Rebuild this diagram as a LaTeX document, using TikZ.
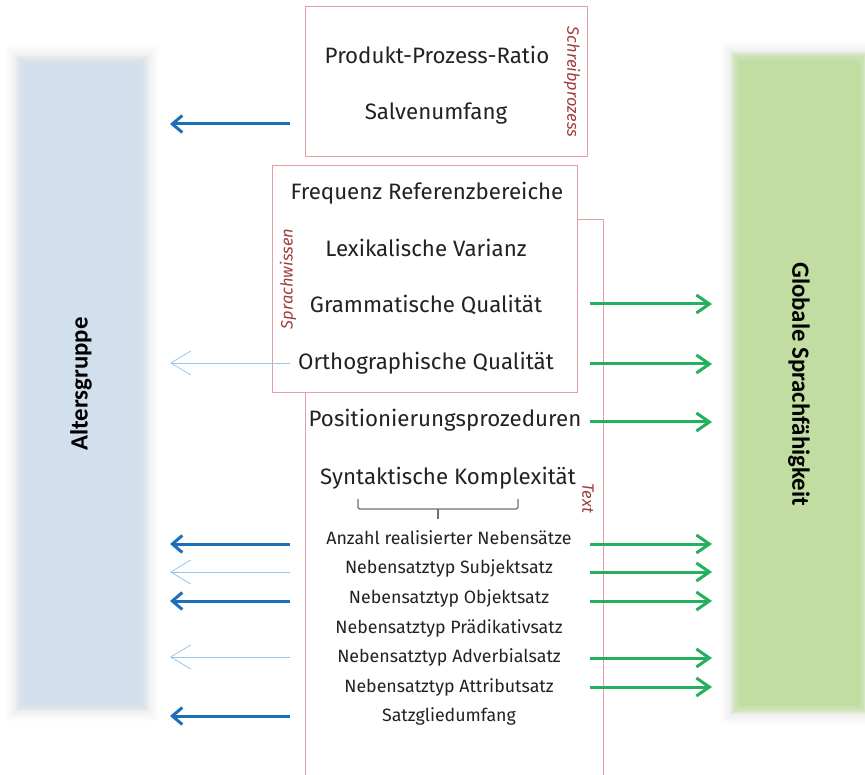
\documentclass[tikz,border=0pt]{standalone}
\usepackage{fontspec}
\setmainfont{Fira Sans}
\newfontfamily\barfont{Carlito}
\usetikzlibrary{arrows.meta,positioning,calc}
\definecolor{BoxLine}{RGB}{226,160,164}
\definecolor{BoxLabel}{RGB}{158,62,62}
\definecolor{AgeBlue}{RGB}{210,223,236}
\definecolor{SkillGreen}{RGB}{193,221,162}
\definecolor{DarkArrow}{RGB}{30,110,185}
\definecolor{LightArrow}{RGB}{157,195,230}
\definecolor{GreenArrow}{RGB}{36,176,94}
\definecolor{Ink}{RGB}{34,34,34}
\definecolor{BraceGrey}{RGB}{112,112,112}

\tikzset{
  item/.style={anchor=base, text=Ink, font=\fontsize{22.3}{25}\selectfont},
  subitem/.style={anchor=base, text=Ink, font=\fontsize{17.8}{20}\selectfont},
  grouplabel/.style={text=BoxLabel, font=\itshape\fontsize{16.5}{18}\selectfont},
  groupbox/.style={draw=BoxLine, line width=1pt},
  barlabel/.style={font=\barfont\bfseries\fontsize{24.8}{28}\selectfont},
  strongedge/.style={DarkArrow, line width=3pt,
    -{Straight Barb[length=10pt,width=17pt]}},
  weakedge/.style={LightArrow, line width=0.8pt,
    -{Straight Barb[length=20pt,width=24pt]}},
  skilledge/.style={GreenArrow, line width=3pt,
    -{Straight Barb[length=13pt,width=18pt]}},
}

\begin{document}
\begin{tikzpicture}[x=1pt,y=-1pt]
  \useasboundingbox (0,0) rectangle (865,775);

  % soft bars at both sides
  \foreach \col/\xa/\ya/\xb/\yb in {AgeBlue/22/62/142/705, SkillGreen/737/58/862/708}
  {
    \foreach \d in {16,14,12,10,8}
      \fill[black, opacity=0.012] (\xa-\d,\ya-\d) rectangle (\xb+\d,\yb+\d);
    \foreach \d in {6,4,2,0}
      \fill[\col, opacity=0.35] (\xa-\d,\ya-\d) rectangle (\xb+\d,\yb+\d);
    \fill[\col] (\xa+2,\ya+2) rectangle (\xb-2,\yb-2);
  }
  \node[barlabel, rotate=90] (age) at (81,384) {Altersgruppe};
  \node[barlabel, rotate=-90] (skill) at (799,384) {Globale Sprachfähigkeit};

  % group frames
  \draw[groupbox] (305,775) |- (603,220) -- (603,775);
  \draw[groupbox, fill=white] (272,166) rectangle (577,393);
  \draw[groupbox, fill=white] (305,7) rectangle (587,157);
  \node[grouplabel, rotate=-90] (schreib) at (572,82) {Schreibprozess};
  \node[grouplabel, rotate=90] (sprach) at (288,279) {Sprachwissen};
  \node[grouplabel, rotate=-90] (textlbl) at (588,498) {Text};

  % measures
  \foreach \name/\txt/\x/\y in {
    ppr/Produkt-Prozess-Ratio/437/64,
    salve/Salvenumfang/436/120,
    freq/Frequenz Referenzbereiche/427/200,
    lex/Lexikalische Varianz/426/257,
    gram/Grammatische Qualität/426/313,
    ortho/Orthographische Qualität/426/370,
    pos/Positionierungsprozeduren/445/427,
    syn/Syntaktische Komplexität/448/484}
    \node[item] (\name) at (\x,\y) {\txt};

  \foreach \name/\txt/\y in {
    nsanz/Anzahl realisierter Nebensätze/544,
    subj/Nebensatztyp Subjektsatz/573.5,
    obj/Nebensatztyp Objektsatz/603,
    praed/Nebensatztyp Prädikativsatz/633,
    adv/Nebensatztyp Adverbialsatz/662.5,
    attr/Nebensatztyp Attributsatz/692,
    sgu/Satzgliedumfang/721.5}
    \node[subitem] (\name) at (449,\y) {\txt};

  % bracket under Syntaktische Komplexitaet
  \draw[BraceGrey, line width=1.2pt, rounded corners=2pt]
    (358,499) |- (518,509) -- (518,499);
  \draw[BraceGrey, line width=1.2pt] (438,509) -- (438,519);

  % effects on Altersgruppe
  \foreach \y/\kind in {124/strongedge, 363/weakedge, 544/strongedge,
                        572/weakedge, 601/strongedge, 657/weakedge, 716/strongedge}
  {
    \coordinate (a-from-\y) at (290,\y);
    \coordinate (a-to-\y) at (170,\y);
    \draw[\kind] (a-from-\y) -- (a-to-\y);
  }

  % effects on Globale Sprachfaehigkeit
  \foreach \y in {304,364,422,544,572,601,658,687}
  {
    \coordinate (s-from-\y) at (590,\y);
    \coordinate (s-to-\y) at (712,\y);
    \draw[skilledge] (s-from-\y) -- (s-to-\y);
  }
\end{tikzpicture}
\end{document}
